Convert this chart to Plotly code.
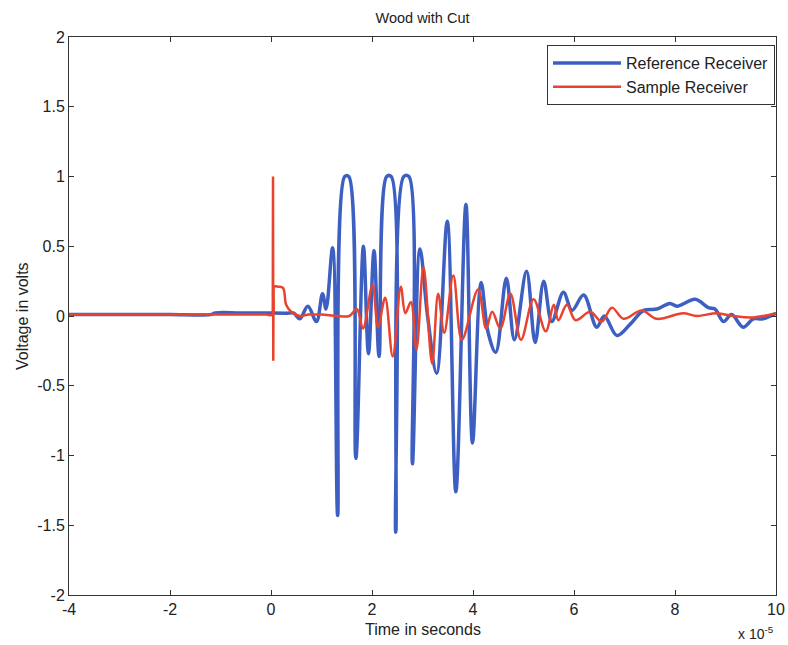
import plotly.graph_objects as go

# time in units of 1e-5 s
ref_t = [-4.0, -3.0, -2.0, -1.2, -1.1, -0.6, -0.1, 0.3, 0.45, 0.57, 0.73, 0.90, 1.02, 1.09, 1.22, 1.32, 1.46, 1.54, 1.68, 1.83, 1.93,
         2.04, 2.14, 2.29, 2.38, 2.47, 2.63, 2.73, 2.80, 2.95, 3.10, 3.28, 3.49, 3.66, 3.86, 3.99,
         4.16, 4.30, 4.45, 4.66, 4.82, 5.06, 5.23, 5.40, 5.56, 5.79, 5.96, 6.19, 6.45, 6.60, 6.85,
         7.11, 7.38, 7.64, 7.90, 8.04, 8.40, 8.66, 8.79, 8.96, 9.12, 9.35, 9.55, 9.74, 10.0]
ref_v = [0.01, 0.01, 0.01, 0.01, 0.022, 0.022, 0.022, 0.02, 0.02, -0.02, 0.07, -0.04, 0.16, 0.05, 0.49, -1.43, 1.0, 1.0, -1.02, 0.50, -0.27,
         0.47, -0.29, 1.0, 1.0, -1.55, 1.0, 1.0, -1.06, 0.48, 0.0, -0.41, 0.68, -1.26, 0.80, -0.91,
         0.24, -0.12, -0.26, 0.27, -0.17, 0.32, -0.19, 0.25, -0.04, 0.17, 0.04, 0.15, -0.08, 0.0, -0.14,
         -0.06, 0.04, 0.05, 0.09, 0.07, 0.12, 0.06, 0.05, -0.04, 0.01, -0.08, -0.02, -0.02, 0.02]

smp_t = [-4.0, -3.0, -2.0, -1.0, -0.5, -0.1, 0.03, 0.06, 0.15, 0.24, 0.30, 0.40, 0.57, 0.75, 1.0, 1.3, 1.55, 1.70, 1.82, 2.01, 2.12,
         2.26, 2.41, 2.57, 2.66, 2.77, 2.88, 3.02, 3.19, 3.31, 3.43, 3.61, 3.78, 4.10, 4.26, 4.38,
         4.54, 4.74, 4.95, 5.20, 5.44, 5.60, 5.69, 5.86, 6.03, 6.32, 6.55, 6.75, 6.98, 7.34, 7.64,
         8.16, 8.43, 8.83, 9.15, 9.55, 10.0]
smp_v = [0.01, 0.01, 0.01, 0.01, 0.01, 0.01, 0.01, 0.21, 0.21, 0.20, 0.08, 0.03, 0.0, 0.01, 0.01, 0.0, 0.0, 0.05, -0.09, 0.22, -0.08,
         0.13, -0.29, 0.21, 0.02, 0.10, -0.24, 0.35, -0.34, 0.16, -0.12, 0.29, -0.17, 0.19, -0.09, 0.03,
         -0.09, 0.16, -0.17, 0.12, -0.11, 0.08, -0.03, 0.08, -0.03, 0.03, -0.04, 0.06, -0.02, 0.04, -0.02,
         0.02, 0.0, 0.02, 0.0, -0.01, 0.02]

# trigger spike of the sample receiver
spike_t = [0.02, 0.035, 0.04, 0.045, 0.05, 0.06]
spike_v = [0.01, 0.01, 1.0, -0.32, 0.20, 0.21]

x_ticks = [-4, -2, 0, 2, 4, 6, 8, 10]
y_ticks = [-2, -1.5, -1, -0.5, 0, 0.5, 1, 1.5, 2]
y_tick_text = ["-2", "-1.5", "-1", "-0.5", "0", "0.5", "1", "1.5", "2"]
x_tick_text = ["-4", "-2", "0", "2", "4", "6", "8", "10"]

BLUE = "#3d5fc2"
RED = "#e8432e"
FONT = "Liberation Sans, Arial, sans-serif"
FS = 16
L, R, T, B = 69, 776, 37, 595
W, H = 788, 645

fig = go.Figure()
fig.add_trace(go.Scatter(x=ref_t, y=ref_v, mode="lines", name="Reference Receiver",
                         line=dict(color=BLUE, width=3.5, shape="spline", smoothing=1.0)))
fig.add_trace(go.Scatter(x=smp_t, y=smp_v, mode="lines", name="Sample Receiver",
                         line=dict(color=RED, width=2.5, shape="spline", smoothing=1.0)))
fig.add_trace(go.Scatter(x=spike_t, y=spike_v, mode="lines", showlegend=False,
                         line=dict(color=RED, width=2.5)))

axis_common = dict(showgrid=False, zeroline=False, showline=True, linecolor="#333", linewidth=1,
                   mirror="ticks", ticks="inside", ticklen=5, tickcolor="#333", automargin=False,
                   tickfont=dict(family=FONT, size=FS, color="#222"))

fig.update_layout(
    width=W, height=H,
    margin=dict(l=L, r=W - R, t=T, b=H - B),
    paper_bgcolor="white", plot_bgcolor="white",
    font=dict(family=FONT, size=FS, color="#222"),
    title=dict(text="Wood with Cut", x=0.5, xref="paper", y=1 - 18 / H, yref="container",
               xanchor="center", yanchor="middle", font=dict(family=FONT, size=14.5, color="#222")),
    xaxis=dict(range=[-4, 10], tickvals=x_ticks, ticktext=x_tick_text, **axis_common),
    yaxis=dict(range=[-2, 2], tickvals=y_ticks, ticktext=y_tick_text, **axis_common),
    legend=dict(x=0.9986, y=0.9857, xanchor="right", yanchor="top", bgcolor="white",
                bordercolor="#333", borderwidth=1, font=dict(family=FONT, size=FS, color="#222"),
                itemwidth=68, tracegroupgap=0),
    showlegend=True,
)
fig.add_annotation(text="Time in seconds", xref="paper", yref="paper", x=0.5, y=(B - 629) / (B - T),
                   xanchor="center", yanchor="middle", showarrow=False,
                   font=dict(family=FONT, size=FS, color="#222"))
fig.add_annotation(text="Voltage in volts", xref="paper", yref="paper", x=(22 - L) / (R - L), y=0.5,
                   xanchor="center", yanchor="middle", showarrow=False, textangle=-90,
                   font=dict(family=FONT, size=FS, color="#222"))
fig.add_annotation(text="x 10<sup>-5</sup>", xref="paper", yref="paper", x=1.0, y=(B - 633) / (B - T),
                   xanchor="right", yanchor="middle", showarrow=False,
                   font=dict(family=FONT, size=14, color="#222"))

fig.write_html("out.html")
